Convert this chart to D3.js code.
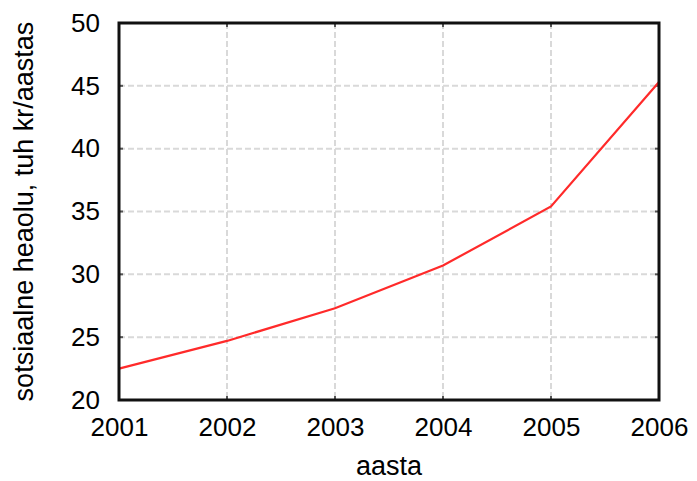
<!DOCTYPE html>
<html>
<head>
<meta charset="utf-8">
<script src="https://cdn.jsdelivr.net/npm/d3@7/dist/d3.min.js"></script>
<style>
  html, body { margin: 0; padding: 0; background: #fff; }
  svg text { font-family: "Liberation Sans", Arial, sans-serif; fill: #000; }
</style>
</head>
<body>
<svg id="chart" width="697" height="481"></svg>
<script>
// Social welfare per year
const years = [2001, 2002, 2003, 2004, 2005, 2006];
const welfare = [22.5, 24.7, 27.3, 30.7, 35.4, 45.3];
const yTicks = [20, 25, 30, 35, 40, 45, 50];
const xTitle = "aasta";
const yTitle = "sotsiaalne heaolu, tuh kr/aastas";

const svg = d3.select("#chart");
const plot = { left: 119, right: 659, top: 23, bottom: 400 };

const x = d3.scaleLinear().domain([2001, 2006]).range([plot.left, plot.right]);
const y = d3.scaleLinear().domain([20, 50]).range([plot.bottom, plot.top]);

// grid
const grid = svg.append("g").attr("stroke", "#d9d9d9").attr("stroke-width", 2)
  .attr("stroke-dasharray", "6,3");
grid.selectAll("line.v").data(years.slice(1, -1)).join("line")
  .attr("x1", d => x(d)).attr("x2", d => x(d))
  .attr("y1", plot.top).attr("y2", plot.bottom);
grid.selectAll("line.h").data(yTicks.slice(1, -1)).join("line")
  .attr("y1", d => y(d)).attr("y2", d => y(d))
  .attr("x1", plot.left).attr("x2", plot.right);

// axes (labels only; frame drawn separately)
const xAxis = d3.axisBottom(x).tickValues(years).tickFormat(d3.format("d")).tickSize(0).tickPadding(18);
const yAxis = d3.axisLeft(y).tickValues(yTicks).tickSize(0).tickPadding(19);

const gx = svg.append("g").attr("transform", `translate(0,${plot.bottom})`).call(xAxis);
const gy = svg.append("g").attr("transform", `translate(${plot.left},0)`).call(yAxis);
[gx, gy].forEach(g => {
  g.select(".domain").remove();
  g.selectAll("text").style("font-size", "26px").style("font-family", "Liberation Sans, Arial, sans-serif");
});

// small inner tick marks
const ticks = svg.append("g").attr("stroke", "#555").attr("stroke-width", 2);
ticks.selectAll("line.xb").data(years).join("line")
  .attr("x1", d => x(d)).attr("x2", d => x(d)).attr("y1", plot.bottom).attr("y2", plot.bottom - 4);
ticks.selectAll("line.xt").data(years).join("line")
  .attr("x1", d => x(d)).attr("x2", d => x(d)).attr("y1", plot.top).attr("y2", plot.top + 4);
ticks.selectAll("line.yl").data(yTicks).join("line")
  .attr("y1", d => y(d)).attr("y2", d => y(d)).attr("x1", plot.left).attr("x2", plot.left + 4);
ticks.selectAll("line.yr").data(yTicks).join("line")
  .attr("y1", d => y(d)).attr("y2", d => y(d)).attr("x1", plot.right).attr("x2", plot.right - 4);

// data line
const line = d3.line().x((d, i) => x(years[i])).y(d => y(d));
svg.append("path").datum(welfare)
  .attr("fill", "none").attr("stroke", "#ff2a2a").attr("stroke-width", 2.2)
  .attr("d", line);

// frame
svg.append("rect")
  .attr("x", plot.left).attr("y", plot.top)
  .attr("width", plot.right - plot.left).attr("height", plot.bottom - plot.top)
  .attr("fill", "none").attr("stroke", "#111").attr("stroke-width", 3);

// titles
svg.append("text").attr("x", (plot.left + plot.right) / 2).attr("y", 475)
  .attr("text-anchor", "middle").style("font-size", "27px").text(xTitle);
svg.append("text")
  .attr("transform", `translate(33,${(plot.top + plot.bottom) / 2}) rotate(-90)`)
  .attr("text-anchor", "middle").style("font-size", "27px").text(yTitle);
</script>
</body>
</html>
